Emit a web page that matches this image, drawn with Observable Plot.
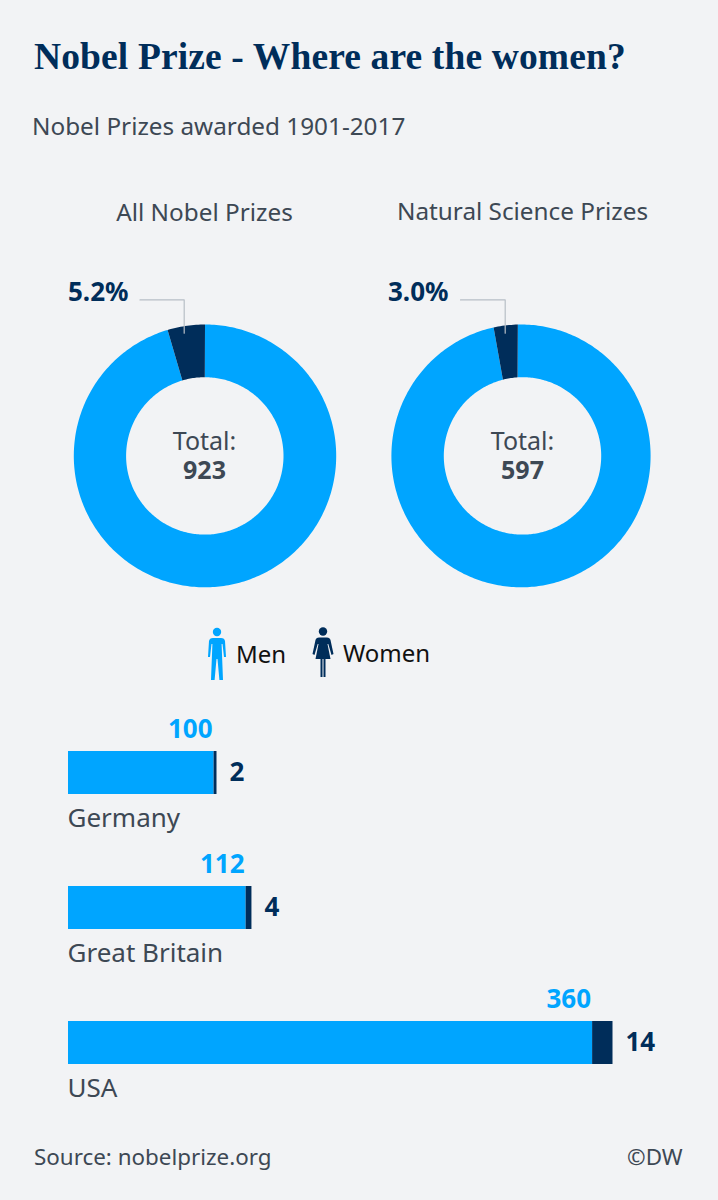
<!DOCTYPE html>
<html><head><meta charset="utf-8">
<script src="https://cdn.jsdelivr.net/npm/d3@7"></script>
<script src="https://cdn.jsdelivr.net/npm/@observablehq/plot@0.6"></script>
<style>
html,body{margin:0;padding:0;background:#f2f3f5;}
#page{position:relative;width:718px;height:1200px;overflow:hidden;font-family:"Noto Sans",sans-serif;color:#3d4854;}
#page>*{position:absolute;margin:0;white-space:nowrap;}
#title{left:34px;top:35px;font:700 37.5px/44px "Liberation Serif",serif;letter-spacing:.13px;color:#002d5a;}
#subtitle{left:32px;top:110px;font-size:24.3px;line-height:32px;}
#source{left:34px;top:1142px;font-size:22.4px;line-height:30px;}
#dw{left:627px;top:1142px;font-size:22.4px;line-height:30px;}
.lg{font-size:24px;line-height:32px;color:#111;}
svg.plot{position:absolute;left:0;background:transparent;}
</style></head><body>
<div id="page">
<h1 id="title">Nobel Prize - Where are the women?</h1>
<p id="subtitle">Nobel Prizes awarded 1901-2017</p>
<svg style="left:206px;top:626px" width="22" height="56" viewBox="0 0 22 56" fill="#00a5ff"><circle cx="11" cy="6" r="4.2"/><path d="M7 12H15C17.500 12 18.500 13 19 15L20 31H18L16.500 18H15.600L17 54H13.400L11.500 33H10.500L8.600 54H5L6.400 18H5.500L4 31H2L3 15C3.500 13 4.500 12 7 12z"/></svg>
<div class="lg" style="left:236px;top:638px">Men</div>
<svg style="left:312px;top:626px" width="22" height="54" viewBox="0 0 22 54" fill="#002d5a"><circle cx="11" cy="5.500" r="4.200"/><path d="M7 11.500H15C17 11.500 18 12.500 18.500 14L21.500 28L19.500 29L16.300 18H15.500L18.500 33H13.500V51H11.500V33H10.500V51H8.500V33H3.500L6.500 18H5.700L2.500 29L.5 28L3.500 14C4 12.500 5 11.500 7 11.500z"/></svg>
<div class="lg" style="left:343px;top:637px">Women</div>
<div id="source">Source: nobelprize.org</div>
<div id="dw">©DW</div>
</div>
<script>
const blue = "#00a5ff", navy = "#002d5a", ink = "#3d4854", rule = "#b7bec6";

// Donuts
const donutTitles = ["All Nobel Prizes", "Natural Science Prizes"];
const donutTotals = [923, 597];
const womenLabels = ["5.2%", "3.0%"];
const womenArcPercent = [4.6, 3.0];   // slice size

// Bars
const countries = ["Germany", "Great Britain", "USA"];
const menCounts = [100, 112, 360];
const womenCounts = [2, 4, 14];
const menBarLength = [100, 122, 360]; // bar length

// Layout of the donut panel (page pixels)
const panelTop = 190, panelH = 420;
const rings = [
  {cx: 204.5, rx: 131.2, rot: 0, icx: 204.3, irot: 0},
  {cx: 520.5, rx: 129.6, rot: -1.4, icx: 522, irot: -3.6}
];
const cy = 455.4, ry = 131.4, rInner = 78.7;
const titlePos = [[204, 213], [522, 212]];
const pctPos = [[128, 292], [448, 292]];
const textX = [204, 522];
const leaderX = [[139.5, 183.7], [460, 504.7]], leaderY = 299.4, leaderEnd = 332.7;

const rad = Math.PI / 180;
function arcRing(g, a0, a1, key, who) {
  // a0, a1: degrees clockwise from twelve o'clock, before each ring's own rotation
  const n = Math.max(4, Math.ceil(Math.abs(a1 - a0)));
  const ts = d3.range(n + 1).map(i => a0 + (a1 - a0) * i / n);
  const outer = ts.map(t => ({x: g.cx + g.rx * Math.sin((t + g.rot) * rad), y: cy - ry * Math.cos((t + g.rot) * rad), key, who}));
  const inner = ts.slice().reverse().map(t => ({x: g.icx + rInner * Math.sin((t + g.irot) * rad), y: cy - rInner * Math.cos((t + g.irot) * rad), key, who}));
  return [...outer, ...inner];
}
const slices = donutTitles.flatMap((d, i) => {
  const a = 360 * womenArcPercent[i] / 100;
  return [
    ...arcRing(rings[i], 0, 360 - a, d + "-men", "men"),
    ...arcRing(rings[i], 360 - a, 360, d + "-women", "women")
  ];
});
const leaders = donutTitles.flatMap((d, i) => [
  {x: leaderX[i][0], y: leaderY, d}, {x: leaderX[i][1], y: leaderY, d}, {x: leaderX[i][1], y: leaderEnd, d}
]);
const idx = d3.range(donutTitles.length);

const donuts = Plot.plot({
  width: 718, height: panelH, margin: 0,
  x: {type: "linear", domain: [0, 718], range: [0, 718], axis: null},
  y: {type: "linear", domain: [panelTop, panelTop + panelH], range: [0, panelH], axis: null},
  style: {background: "transparent", fontFamily: '"Noto Sans", sans-serif'},
  marks: [
    Plot.line(slices, {x: "x", y: "y", z: "key", fill: d => d.who === "men" ? blue : navy, stroke: null}),
    Plot.line(leaders, {x: "x", y: "y", z: "d", stroke: rule, strokeWidth: 1.2}),
    Plot.text(idx, {x: i => titlePos[i][0], y: i => titlePos[i][1], text: i => donutTitles[i], fontSize: 24.3, fill: ink}),
    Plot.text(idx, {x: i => pctPos[i][0], y: i => pctPos[i][1], text: i => womenLabels[i], textAnchor: "end", fontSize: 26, fontWeight: 700, fill: navy}),
    Plot.text(idx, {x: i => textX[i], y: () => 441, text: () => "Total:", fontSize: 25, fill: ink}),
    Plot.text(idx, {x: i => textX[i], y: () => 470.5, text: i => String(donutTotals[i]), fontSize: 25, fontWeight: 700, fill: ink})
  ]
});
donuts.style.top = panelTop + "px";
document.getElementById("page").appendChild(donuts);

// Bar panel
const rows = countries.map((c, i) => ({
  c, men: menCounts[i], women: womenCounts[i], bar: menBarLength[i], end: menBarLength[i] + womenCounts[i]
}));
const barTop = 700, barH = 410;
const bars = Plot.plot({
  width: 718, height: barH, margin: 0,
  x: {type: "linear", domain: [0, 374], range: [68, 612.5], axis: null},
  y: {type: "band", domain: countries, range: [50, 365], paddingInner: 0.6796, paddingOuter: 0, axis: null},
  style: {background: "transparent", fontFamily: '"Noto Sans", sans-serif'},
  marks: [
    Plot.barX(rows, {x1: () => 0, x2: "bar", y: "c", fill: blue}),
    Plot.barX(rows, {x1: "bar", x2: "end", y: "c", fill: navy}),
    Plot.text(rows, {x: "bar", y: "c", text: d => String(d.men), dy: -43, dx: -1.5, textAnchor: "end", fontSize: 26, fontWeight: 700, fill: blue}),
    Plot.text(rows, {x: "end", y: "c", text: d => String(d.women), dx: 12.5, textAnchor: "start", fontSize: 26, fontWeight: 700, fill: navy}),
    Plot.text(rows, {x: () => 0, y: "c", text: "c", dy: 45.5, dx: -1, textAnchor: "start", fontSize: 26, fill: ink})
  ]
});
bars.style.top = barTop + "px";
document.getElementById("page").appendChild(bars);
</script>
</body></html>
